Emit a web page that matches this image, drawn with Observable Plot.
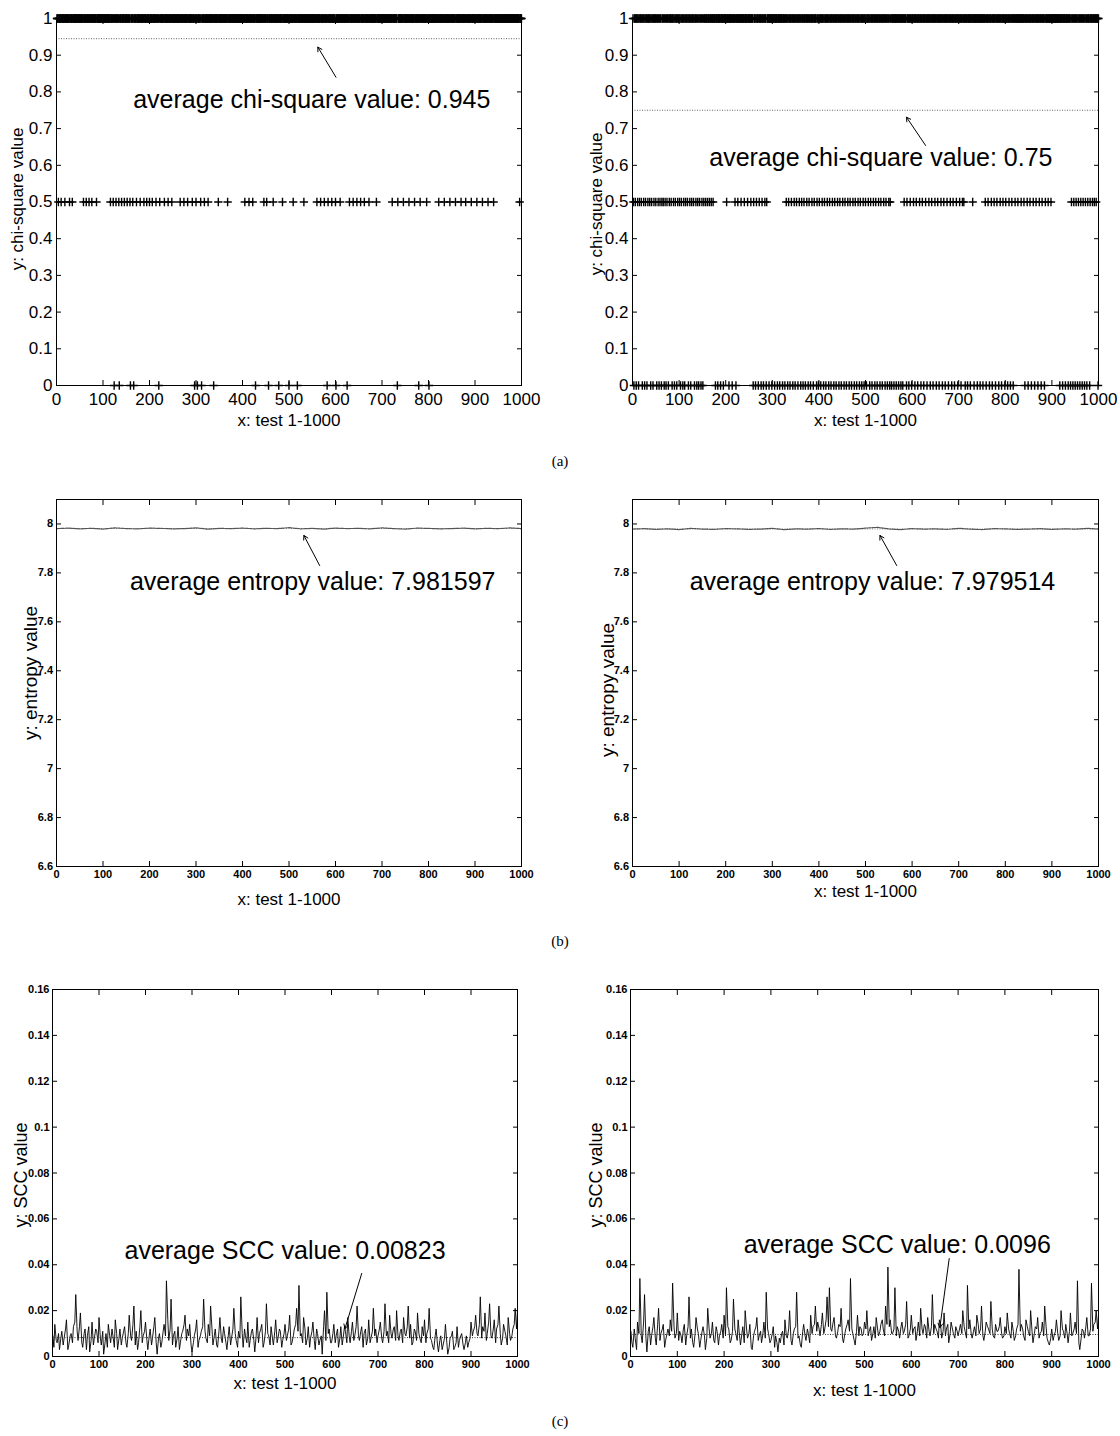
<!DOCTYPE html>
<html>
<head>
<meta charset="utf-8">
<script src="https://cdn.jsdelivr.net/npm/d3@7"></script>
<script src="https://cdn.jsdelivr.net/npm/@observablehq/plot@0.6"></script>
<style>
  body { margin: 0; background: #fff; }
  #page { position: relative; width: 1120px; height: 1436px; overflow: hidden; background: #fff; }
  .panel { position: absolute; }
  .panel svg { overflow: visible; }
  .cap { position: absolute; font-family: "Liberation Serif", "Times New Roman", serif; font-size: 15px; color: #000; transform: translate(-50%, -50%); }
</style>
</head>
<body>
<div id="page"></div>
<script>
// ---------------- tick labels ----------------
const xTicks = [0, 100, 200, 300, 400, 500, 600, 700, 800, 900, 1000];
const chiTicks = [0, 0.1, 0.2, 0.3, 0.4, 0.5, 0.6, 0.7, 0.8, 0.9, 1];
const entropyTicks = [6.6, 6.8, 7, 7.2, 7.4, 7.6, 7.8, 8];
const sccTicks = [0, 0.02, 0.04, 0.06, 0.08, 0.1, 0.12, 0.14, 0.16];

// ---------------- (a) chi-square: tests whose value is 0.5 or 0 (all others are 1) ----------------
const chiLeftHalf = [4, 10, 18, 28, 34, 58, 64, 70, 76, 86, 116, 122, 128, 134, 140, 146, 152, 158, 164, 172, 180, 188, 194, 200, 206, 214, 222, 232, 240, 248, 266, 274, 282, 292, 300, 310, 318, 326, 348, 368, 405, 414, 422, 446, 452, 466, 486, 509, 532, 560, 568, 576, 584, 592, 600, 610, 630, 638, 646, 654, 662, 672, 688, 722, 734, 746, 758, 770, 782, 796, 822, 834, 846, 858, 870, 880, 892, 904, 916, 928, 940, 996];
const chiLeftZero = [124, 135, 159, 166, 220, 297, 303, 312, 338, 428, 456, 478, 500, 518, 582, 601, 625, 733, 779, 801];
const chiRightHalf = [2, 6, 11, 15, 19, 24, 28, 33, 37, 41, 46, 50, 55, 59, 63, 66, 70, 74, 79, 83, 88, 92, 97, 101, 105, 110, 114, 118, 123, 127, 131, 136, 140, 144, 149, 153, 157, 161, 165, 169, 173,
  202, 220, 226, 233, 240, 247, 254, 260, 266, 272, 278, 284, 288,
  330, 335, 341, 347, 352, 358, 363, 368, 374, 379, 385, 390, 396, 401, 407, 412, 418, 423, 429, 434, 440, 445, 451, 456, 462, 467, 473, 478, 484, 489, 495, 500, 506, 511, 517, 522, 528, 533, 539, 544, 550, 553,
  583, 589, 596, 603, 609, 616, 622, 629, 636, 642, 649, 655, 662, 668, 675, 682, 688, 695, 702, 708, 711, 730,
  757, 763, 770, 776, 782, 789, 795, 801, 808, 814, 821, 827, 834, 840, 847, 853, 860, 866, 873, 879, 886, 892, 898,
  942, 947, 952, 957, 962, 967, 972, 977, 982, 987, 991, 995];
const chiRightZero = [3, 8, 13, 21, 26, 31, 39, 44, 52, 57, 62, 68, 72, 77, 85, 90, 95, 103, 108, 112, 120, 125, 133, 138, 142, 147, 151,
  178, 183, 189, 195, 207, 214, 222,
  259, 264, 270, 276, 281, 287, 293, 299, 305, 311, 316, 322, 327, 333, 338, 344, 349, 355, 361, 366, 371, 377, 382, 388,
  395, 399, 404, 410, 415, 421, 426, 432, 437, 443, 448, 454, 459, 465, 470, 476, 481, 487, 492, 497, 502,
  509, 514, 520, 525, 531, 536, 542, 547, 552, 556, 561, 566, 571, 576, 580,
  588, 593, 599, 606, 612, 619, 625, 632, 639, 645, 652, 658, 665, 671, 678, 685, 691, 698, 705, 714, 719, 725, 733, 740, 746, 752, 759, 766, 772, 779, 786, 792, 799, 805, 811, 817,
  842, 849, 856, 863, 870, 877, 884,
  917, 923, 929, 935, 940, 945, 950, 955, 960, 965, 970, 975, 981, 999];
const chiLeftAvg = 0.945;
const chiRightAvg = 0.75;

// ---------------- (b) entropy, read every 25 tests ----------------
const entropyLeft = [7.981, 7.983, 7.980, 7.982, 7.979, 7.984, 7.981, 7.980, 7.983, 7.982, 7.980, 7.981, 7.984, 7.979, 7.982, 7.981, 7.983, 7.980, 7.982, 7.981, 7.985, 7.980, 7.982, 7.979, 7.983, 7.981, 7.982, 7.980, 7.984, 7.981, 7.979, 7.983, 7.982, 7.980, 7.981, 7.983, 7.980, 7.982, 7.981, 7.984, 7.981];
const entropyRight = [7.979, 7.981, 7.978, 7.980, 7.977, 7.982, 7.979, 7.978, 7.981, 7.980, 7.978, 7.979, 7.982, 7.977, 7.980, 7.979, 7.981, 7.978, 7.980, 7.979, 7.983, 7.986, 7.980, 7.977, 7.981, 7.979, 7.980, 7.978, 7.982, 7.979, 7.977, 7.981, 7.980, 7.978, 7.979, 7.981, 7.978, 7.980, 7.979, 7.982, 7.979];
const entropyLeftAvg = 7.981597;
const entropyRightAvg = 7.979514;

// ---------------- (c) SCC: values at tests 1,5,10,...,1000 and in between (tests 3,8,13,...) ----------------
const sccLeft = [
  .009, .014, .006, .003, .011, .008, .016, .005, .010, .013, .027, .007, .019, .004, .012, .009, .002, .015, .008, .011,
  .017, .005, .001, .010, .014, .006, .009, .016, .003, .012, .008, .013, .004, .018, .007, .022, .011, .006, .020, .009,
  .015, .003, .012, .008, .017, .001, .010, .006, .014, .033, .007, .025, .009, .004, .013, .006, .011, .018, .012, .014,
  .002, .009, .016, .007, .011, .025, .008, .014, .022, .005, .012, .004, .017, .006, .010, .003, .013, .008, .021, .007,
  .011, .026, .004, .009, .015, .007, .012, .002, .017, .010, .014, .006, .023, .009, .013, .005, .016, .008, .011, .007,
  .014, .009, .018, .006, .012, .021, .031, .010, .017, .005, .013, .008, .015, .003, .010, .007, .001, .020, .028, .012,
  .006, .014, .009, .004, .013, .008, .011, .017, .006, .015, .009, .022, .007, .013, .010, .005, .016, .008, .021, .012,
  .009, .015, .006, .023, .011, .018, .008, .013, .020, .007, .012, .017, .009, .022, .014, .006, .011, .019, .008, .013,
  .016, .010, .021, .007, .003, .012, .002, .009, .005, .014, .001, .008, .011, .004, .013, .007, .010, .003, .009, .006,
  .015, .011, .018, .009, .026, .013, .019, .010, .023, .008, .016, .012, .022, .005, .014, .009, .017, .007, .012, .021, .020];
const sccLeftMid = [
  .004, .007, .010, .008, .005, .012, .003, .009, .006, .015, .011, .013, .006, .010, .003, .013, .007, .005, .012, .006,
  .008, .011, .006, .004, .009, .012, .004, .010, .008, .005, .011, .006, .010, .009, .014, .005, .003, .013, .006, .011,
  .007, .009, .005, .013, .006, .008, .004, .011, .009, .016, .012, .005, .011, .008, .003, .010, .014, .007, .009, .005,
  .006, .012, .004, .009, .013, .011, .006, .009, .012, .009, .005, .011, .008, .013, .006, .009, .005, .012, .010, .004,
  .008, .010, .012, .006, .004, .011, .007, .009, .006, .012, .004, .011, .010, .005, .008, .011, .006, .012, .004, .010,
  .007, .012, .005, .009, .014, .011, .009, .006, .012, .008, .004, .011, .007, .012, .005, .009, .013, .007, .010, .006,
  .010, .006, .012, .008, .005, .013, .006, .009, .011, .007, .013, .009, .011, .004, .012, .008, .006, .011, .009, .006,
  .012, .008, .011, .009, .006, .010, .012, .007, .009, .011, .006, .010, .013, .008, .005, .012, .007, .010, .006, .009,
  .006, .012, .008, .004, .009, .005, .007, .003, .008, .006, .004, .009, .003, .006, .004, .009, .005, .006, .004, .008,
  .009, .013, .010, .014, .008, .011, .007, .015, .009, .012, .006, .014, .010, .008, .011, .005, .010, .009, .014, .012];
const sccRight = [
  .011, .004, .008, .015, .034, .006, .027, .002, .013, .009, .017, .005, .021, .010, .014, .007, .012, .016, .032, .008,
  .019, .011, .006, .014, .009, .026, .012, .004, .017, .010, .007, .013, .003, .021, .008, .015, .006, .011, .009, .014,
  .018, .030, .012, .007, .025, .010, .016, .005, .013, .020, .008, .014, .003, .011, .017, .009, .006, .015, .028, .010,
  .007, .013, .009, .002, .006, .011, .016, .008, .020, .005, .012, .028, .009, .004, .014, .007, .010, .018, .013, .022,
  .015, .009, .019, .012, .026, .030, .011, .017, .008, .014, .021, .006, .012, .016, .034, .010, .005, .018, .013, .009,
  .015, .020, .011, .007, .013, .017, .009, .014, .012, .022, .039, .016, .010, .030, .013, .008, .015, .011, .024, .009,
  .018, .012, .007, .015, .021, .010, .013, .017, .009, .027, .014, .011, .016, .008, .019, .012, .006, .015, .010, .013,
  .009, .014, .020, .011, .031, .016, .008, .013, .018, .010, .022, .007, .015, .012, .024, .009, .014, .011, .017, .008,
  .013, .019, .010, .015, .007, .012, .038, .014, .009, .016, .011, .020, .006, .013, .017, .010, .015, .022, .008, .005,
  .012, .009, .016, .007, .020, .011, .014, .006, .019, .010, .015, .033, .003, .012, .008, .017, .009, .032, .014, .020, .018];
const sccRightMid = [
  .006, .012, .003, .010, .009, .015, .008, .011, .005, .013, .008, .014, .007, .012, .004, .010, .009, .011, .013, .010,
  .007, .009, .012, .005, .013, .008, .006, .010, .012, .004, .011, .009, .008, .012, .010, .007, .013, .005, .011, .008,
  .009, .013, .006, .011, .012, .007, .009, .010, .006, .012, .010, .004, .009, .013, .007, .011, .010, .008, .012, .006,
  .010, .004, .006, .008, .010, .005, .009, .012, .007, .010, .013, .008, .005, .011, .009, .012, .006, .010, .014, .011,
  .012, .014, .010, .016, .013, .012, .015, .009, .011, .013, .008, .010, .014, .011, .012, .007, .011, .009, .012, .010,
  .012, .009, .013, .010, .008, .012, .011, .016, .009, .014, .013, .010, .012, .009, .011, .013, .010, .014, .008, .012,
  .010, .013, .011, .009, .012, .014, .008, .011, .013, .010, .012, .008, .013, .011, .009, .014, .010, .012, .008, .011,
  .012, .010, .013, .008, .012, .010, .011, .009, .014, .012, .009, .011, .013, .010, .012, .008, .011, .013, .010, .009,
  .010, .012, .008, .011, .009, .014, .011, .012, .007, .013, .009, .011, .010, .012, .008, .011, .009, .013, .006, .008,
  .007, .011, .010, .009, .012, .008, .010, .011, .009, .012, .010, .006, .008, .011, .013, .009, .012, .011, .015, .012];
const sccLeftAvg = 0.00823;
const sccRightAvg = 0.0096;

// ---------------- labels & annotations ----------------
const xTitle = "x: test 1-1000";
const yTitles = ["y: chi-square value", "y: entropy value", "y: SCC value"];
const captions = ["(a)", "(b)", "(c)"];
const notes = {
  aL: {text: "average chi-square value: 0.945", x: 549, y: 0.777, x1: 601, y1: 0.840, x2: 562, y2: 0.922},
  aR: {text: "average chi-square value: 0.75", x: 533, y: 0.621, x1: 629, y1: 0.654, x2: 588, y2: 0.731},
  bL: {text: "average entropy value: 7.981597", x: 551, y: 7.761, x1: 566, y1: 7.830, x2: 532, y2: 7.953},
  bR: {text: "average entropy value: 7.979514", x: 515, y: 7.761, x1: 567, y1: 7.830, x2: 531, y2: 7.953},
  cL: {text: "average SCC value: 0.00823", x: 500, y: 0.0462, x1: 665, y1: 0.0362, x2: 629, y2: 0.0122},
  cR: {text: "average SCC value: 0.0096", x: 570, y: 0.0488, x1: 681, y1: 0.0427, x2: 661, y2: 0.0126}
};

// ---------------- build tables ----------------
function chiSeries(half, zero) {
  const h = new Set(half), z = new Set(zero);
  return d3.range(1, 1001).map(t => ({test: t, value: z.has(t) ? 0 : h.has(t) ? 0.5 : 1}));
}
const seriesTable = (vals, step) => vals.map((v, i) => ({test: Math.max(1, i * step), value: v}));
function sccTable(main, mid) {
  const rows = [];
  main.forEach((v, i) => {
    rows.push({test: Math.max(1, i * 5), value: v});
    if (i < mid.length) rows.push({test: i * 5 + 3, value: mid[i]});
  });
  return rows;
}

const FONT = "'Liberation Sans', Arial, Helvetica, sans-serif";
const fmt = d3.format("~g");
const page = document.getElementById("page");

function panel(o) {
  const n = o.note;
  const chart = Plot.plot({
    width: o.width, height: o.height,
    marginLeft: o.ml, marginRight: o.mr, marginTop: o.mt, marginBottom: o.mb,
    style: {fontFamily: FONT, background: "transparent", color: "#000", overflow: "visible"},
    x: {domain: [0, 1000], label: null},
    y: {domain: o.yDomain, label: null},
    marks: [
      ...o.marks,
      Plot.frame({stroke: "#000", strokeWidth: 1}),
      Plot.axisX(xTicks, {anchor: "bottom", tickSize: -5, tickPadding: o.xPad, tickFormat: fmt, fontSize: o.tickFont, fontWeight: o.tickWeight, label: null}),
      Plot.axisX(xTicks, {anchor: "top", tickSize: -5, fill: "none", label: null}),
      Plot.axisY(o.yTicks, {anchor: "left", tickSize: -5, tickPadding: o.yPad, tickFormat: fmt, fontSize: o.tickFont, fontWeight: o.tickWeight, label: null}),
      Plot.axisY(o.yTicks, {anchor: "right", tickSize: -5, fill: "none", label: null}),
      Plot.text([xTitle], {frameAnchor: "bottom", textAnchor: "middle", lineAnchor: "middle", dy: o.xTitleDy, fontSize: 17, text: d => d, fill: "#000"}),
      Plot.text([o.yTitle], {frameAnchor: "left", textAnchor: "middle", lineAnchor: "middle", rotate: -90, dx: o.yTitleDx, dy: o.yTitleDy, fontSize: o.yTitleSize, text: d => d, fill: "#000"}),
      Plot.arrow([n], {x1: "x1", y1: "y1", x2: "x2", y2: "y2", stroke: "#000", strokeWidth: 1, headLength: 7}),
      Plot.text([n], {x: "x", y: "y", text: "text", fontSize: 25, fill: "#000"})
    ]
  });
  const div = document.createElement("div");
  div.className = "panel";
  div.style.left = o.left + "px";
  div.style.top = o.top + "px";
  div.appendChild(chart);
  page.appendChild(div);
}

const chiDot = (data) => Plot.dot(data, {x: "test", y: "value", symbol: "plus", r: 2.8, stroke: "#000", strokeWidth: 1.4});
const avgRule = (v, color) => Plot.ruleY([v], {stroke: color, strokeWidth: 1, strokeDasharray: "1,1.5"});

// (a)
const commonA = {top: 0, height: 440, mt: 18, mb: 55, yDomain: [0, 1], yTicks: chiTicks, tickFont: 17, tickWeight: "normal", xPad: 12, yPad: 9, yTitle: yTitles[0], yTitleSize: 17};
panel({...commonA, left: 0, width: 560, ml: 56, mr: 39, xTitleDy: 35.5, yTitleDx: -38.5, yTitleDy: -3, note: notes.aL,
  marks: [avgRule(chiLeftAvg, "#666"), chiDot(chiSeries(chiLeftHalf, chiLeftZero))]});
panel({...commonA, left: 570, width: 550, ml: 62, mr: 22, xTitleDy: 35.5, yTitleDx: -36, yTitleDy: 2, note: notes.aR,
  marks: [avgRule(chiRightAvg, "#666"), chiDot(chiSeries(chiRightHalf, chiRightZero))]});

// (b)
const entLine = (vals) => Plot.lineY(seriesTable(vals, 25), {x: "test", y: "value", stroke: "#555", strokeWidth: 1.2, strokeDasharray: "3,1"});
const commonB = {top: 480, height: 440, mt: 19, mb: 54, yDomain: [6.6, 8.1], yTicks: entropyTicks, tickFont: 11, tickWeight: "bold", xPad: 9, yPad: 8.5, yTitle: yTitles[1], yTitleSize: 19};
panel({...commonB, left: 0, width: 560, ml: 56, mr: 39, xTitleDy: 33, yTitleDx: -26, yTitleDy: -10, note: notes.bL,
  marks: [avgRule(entropyLeftAvg, "#888"), entLine(entropyLeft)]});
panel({...commonB, left: 570, width: 550, ml: 62, mr: 22, xTitleDy: 25, yTitleDx: -25, yTitleDy: 7, note: notes.bR,
  marks: [avgRule(entropyRightAvg, "#888"), entLine(entropyRight)]});

// (c)
const sccLine = (main, mid) => Plot.lineY(sccTable(main, mid), {x: "test", y: "value", stroke: "#000", strokeWidth: 0.9});
const commonC = {top: 970, height: 440, mt: 19, mb: 54, yDomain: [0, 0.16], yTicks: sccTicks, tickFont: 11, tickWeight: "bold", xPad: 9, yPad: 8, yTitle: yTitles[2], yTitleSize: 18};
panel({...commonC, left: 0, width: 560, ml: 52, mr: 43, xTitleDy: 27.5, yTitleDx: -31, yTitleDy: 2, note: notes.cL,
  marks: [sccLine(sccLeft, sccLeftMid), avgRule(sccLeftAvg, "#333")]});
panel({...commonC, left: 570, width: 550, ml: 60, mr: 22, xTitleDy: 34, yTitleDx: -34, yTitleDy: 2, note: notes.cR,
  marks: [sccLine(sccRight, sccRightMid), avgRule(sccRightAvg, "#333")]});

// captions
[[captions[0], 461], [captions[1], 941], [captions[2], 1421]].forEach(([t, y]) => {
  const d = document.createElement("div");
  d.className = "cap";
  d.style.left = "560px";
  d.style.top = y + "px";
  d.textContent = t;
  page.appendChild(d);
});
</script>
</body>
</html>
